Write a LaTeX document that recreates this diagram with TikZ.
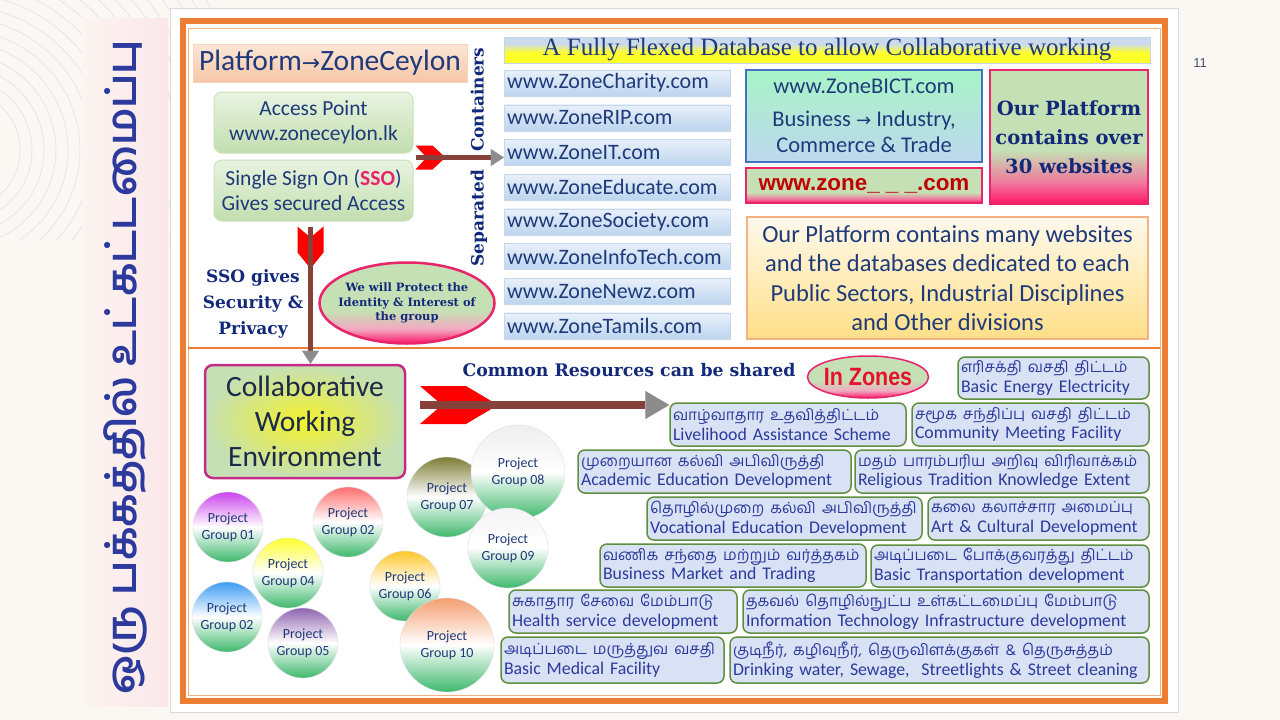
\documentclass[tikz,border=0pt]{standalone}
\usepackage{fontspec}
\usepackage{graphicx}
\setmainfont{Carlito}
\newfontfamily\tam[Script=Tamil]{Hind Madurai}
\newfontfamily\heavy{DejaVu Serif}
\newfontfamily\tserif{Liberation Serif}
\newfontfamily\arialf{Liberation Sans}
\newfontfamily\djs{DejaVu Sans}
\usetikzlibrary{shapes.geometric,arrows.meta,calc}
\definecolor{pagebg}{HTML}{FBF8F4}
\definecolor{navy}{HTML}{1F3A7A}
\definecolor{hnavy}{HTML}{12297A}
\definecolor{tamblue}{HTML}{2B3A9C}
\definecolor{orangeF}{HTML}{ED7D31}
\definecolor{orangeL}{HTML}{F4B183}
\definecolor{brownS}{HTML}{86423A}
\definecolor{tipg}{HTML}{8C8C8C}
\definecolor{crim}{HTML}{E8246A}
\definecolor{lgreen}{HTML}{C5E0B4}
\definecolor{pgreen}{HTML}{3DB86B}
\definecolor{pinkS}{HTML}{FF1566}
\definecolor{pinkM}{HTML}{F0789E}
\definecolor{pinkL}{HTML}{F2A9C2}
\definecolor{ybar}{HTML}{FFFF2A}
\definecolor{bbar}{HTML}{CCDAEE}
\definecolor{zfill}{HTML}{D9E1F4}
\definecolor{zdraw}{HTML}{5F8F3E}
\definecolor{magB}{HTML}{C42B86}
\definecolor{arcc}{HTML}{E4E7EE}
\definecolor{platT}{HTML}{FCE6D8}
\definecolor{platB}{HTML}{F7C6A6}
\definecolor{platD}{HTML}{F9D3BA}
\definecolor{accT}{HTML}{E8F3E0}
\definecolor{accB}{HTML}{C2DEAF}
\definecolor{accD}{HTML}{C9E2B8}
\definecolor{webT}{HTML}{E8F0FA}
\definecolor{webB}{HTML}{BDD5EE}
\definecolor{webD}{HTML}{C7D6EA}
\definecolor{stripL}{HTML}{FCF4F1}
\definecolor{stripR}{HTML}{FBE7E9}
\definecolor{barD}{HTML}{C5D5EA}
\definecolor{bictT}{HTML}{A8F5C6}
\definecolor{bictB}{HTML}{BDD7EE}
\definecolor{bictD}{HTML}{4472C4}
\definecolor{dred}{HTML}{C00000}
\definecolor{orT}{HTML}{FFF9EC}
\definecolor{orB}{HTML}{FFDF88}
\definecolor{colY}{HTML}{F4F22A}
\definecolor{colT}{HTML}{1B2A4A}
\definecolor{zoneR}{HTML}{E8112D}
\definecolor{pgA}{HTML}{CC44EE}
\definecolor{pgB}{HTML}{FF6F6F}
\definecolor{pgC}{HTML}{FFFF30}
\definecolor{pgD}{HTML}{3D9BF5}
\definecolor{pgE}{HTML}{8E64B0}
\definecolor{pgF}{HTML}{FFC72C}
\definecolor{pgG}{HTML}{F4A070}
\definecolor{pgH}{HTML}{7D7D36}
\definecolor{pgI}{HTML}{EEEEEE}
\definecolor{pgJ}{HTML}{F4F4F4}
\definecolor{pgnum}{HTML}{44546A}
\pgfdeclareverticalshading{gpinkO}{100bp}{color(0bp)=(pinkS); color(25bp)=(pinkS); color(33bp)=(pinkM); color(45bp)=(lgreen); color(75bp)=(lgreen); color(100bp)=(lgreen)}
\pgfdeclareverticalshading{gpinkZ}{100bp}{color(0bp)=(pinkS); color(25bp)=(pinkS); color(31bp)=(pinkM); color(40bp)=(lgreen); color(75bp)=(lgreen); color(100bp)=(lgreen)}
\pgfdeclareverticalshading{gpinkE}{100bp}{color(0bp)=(pinkS); color(25bp)=(pinkS); color(34bp)=(pinkL); color(45bp)=(lgreen); color(75bp)=(lgreen); color(100bp)=(lgreen)}
\pgfdeclareverticalshading{tbar}{100bp}{color(0bp)=(ybar); color(25bp)=(ybar); color(45bp)=(ybar); color(62bp)=(bbar); color(75bp)=(bbar); color(100bp)=(bbar)}
\tikzset{
  plat/.style={rectangle, top color=platT, bottom color=platB, draw=platD, minimum width=274, minimum height=38, inner sep=0, text=navy, font=\fontsize{29.5}{32}\selectfont},
  accbox/.style={rounded corners=8, top color=accT, bottom color=accB, draw=accD, line width=1, minimum width=199, minimum height=61, inner sep=0, align=center, text=navy, font=\fontsize{21.5}{25}\selectfont},
  web/.style={rectangle, top color=webT, bottom color=webB, draw=webD, minimum height=26, text width=220, align=left, inner xsep=3, inner ysep=0, text=navy, font=\fontsize{22}{24}\selectfont},
  zbox/.style={rounded corners=7, fill=zfill, draw=zdraw, line width=1.5, align=left, inner xsep=3, inner ysep=1, text=tamblue, font=\fontsize{17.8}{19.8}\selectfont},
  pg/.style n args={2}{circle, minimum size=#1, top color=#2, bottom color=pgreen, middle color=white, draw=gray!25, align=center, inner sep=0, text=navy, font=\fontsize{14}{17}\selectfont},
  heavytxt/.style={text=hnavy, font=\heavy\bfseries\fontsize{17}{26}\selectfont},
  oval/.style={ellipse, shade, shading=gpinkE, draw=crim, inner sep=0},
  fletch/.style={fill=red},
  shaftS/.style={draw=brownS, line width=5, -{Triangle[length=13pt,width=17pt,line width=0.1pt,color=tipg,fill=tipg]}},
  shaftB/.style={draw=brownS, line width=8, -{Triangle[length=24pt,width=28pt,line width=0.1pt,color=tipg,fill=tipg]}}
}
\newcommand\tml[1]{{\tam\fontsize{15.3}{17}\selectfont #1}}
\begin{document}
\begin{tikzpicture}[x=1pt,y=-1pt]
\useasboundingbox (0,0) rectangle (1280,720);
\fill[pagebg] (0,0) rectangle (1280,720);
\begin{scope}
  \clip (0,0) rectangle (210,240);
  \foreach \r in {60,72,...,300} \draw[arcc, line width=0.9] (-40,150) circle[radius=\r];
\end{scope}
% left title strip
\shade[left color=stripL, right color=stripR] (82,18) rectangle (168,706);
\node[rotate=90, text=tamblue, font=\tam\bfseries\fontsize{41}{48}\selectfont] (title) at (125,367) {ஒரு பக்கத்தில் உட்கட்டமைப்பு};
% main panel
\fill[white, draw=gray!30] (170,8) rectangle (1178,712);
\draw[orangeF, line width=6] (183,21) rectangle (1165,701);
\draw[orangeL, line width=1] (188,28) rectangle (1160,695);
\draw[orangeF, line width=2.5] (188,348) -- (1160,348);
\node[text=pgnum, font=\arialf\fontsize{13}{15}\selectfont] (pgno) at (1200,63) {11};

% top-left
\node[plat] (plat) at (330,63) {Platform{\djs\fontsize{22}{24}\selectfont →}ZoneCeylon};
\node[accbox] (access) at (313.5,122.5) {Access Point\\www.zoneceylon.lk};
\node[accbox] (sso) at (313.5,190.5) {Single Sign On ({\color{crim}\bfseries SSO})\\Gives secured Access};
\node[heavytxt, align=center] (ssog) at (253,304) {SSO gives\\Security \&\\Privacy};
\node[oval, line width=2.5, minimum width=175, minimum height=81] (protect) at (407,303) {};
\node[align=center, inner sep=0, text=hnavy, font=\heavy\bfseries\fontsize{11.5}{14.5}\selectfont] (protectT) at (protect.center) {We will Protect the\\Identity \& Interest of\\the group};
\node[rotate=90, text=hnavy, font=\heavy\bfseries\fontsize{17}{19}\selectfont] (sepc) at (479,157) {Separated\hspace{18pt}Containers};

% title bar
\node[rectangle, shade, shading=tbar, draw=barD, minimum width=646, minimum height=26, inner sep=0, text=navy, font=\tserif\fontsize{25}{27}\selectfont] (tbar) at (827,50) {A Fully Flexed Database to allow Collaborative working};

% websites
\node[web] (w1) at (617,83) {www.ZoneCharity.com};
\node[web] (w2) at (617,117.7) {www.ZoneRIP.com};
\node[web] (zit) at (617,152.4) {www.ZoneIT.com};
\node[web] (w4) at (617,187.1) {www.ZoneEducate.com};
\node[web] (w5) at (617,221.8) {www.ZoneSociety.com};
\node[web] (w6) at (617,256.5) {www.ZoneInfoTech.com};
\node[web] (w7) at (617,291.2) {www.ZoneNewz.com};
\node[web] (w8) at (617,325.9) {www.ZoneTamils.com};

% right top
\node[rectangle, top color=bictT, bottom color=bictB, draw=bictD, line width=2, minimum width=236, minimum height=92, inner sep=0, align=center, text=navy, font=\fontsize{22.5}{26.5}\selectfont] (bict) at (864,116) {www.ZoneBICT.com\\[6pt]Business {\djs\fontsize{18}{20}\selectfont →} Industry,\\Commerce \& Trade};
\node[rectangle, shade, shading=gpinkZ, draw=crim, line width=2, minimum width=236, minimum height=35, inner sep=0, text=dred, font=\arialf\bfseries\fontsize{22.4}{24}\selectfont] (zone) at (864,185.5) {www.zone\_ \_ \_.com};
\node[rectangle, shade, shading=gpinkO, draw=crim, line width=2, minimum width=158, minimum height=134, inner sep=0, align=center, text=hnavy, font=\heavy\bfseries\fontsize{19.5}{29}\selectfont] (our) at (1069,137) {Our Platform\\contains over\\30 websites};
\node[rectangle, top color=orT, bottom color=orB, draw=orangeL, line width=1.5, minimum width=401, minimum height=122, inner sep=0, align=center, text=navy, font=\fontsize{24.5}{29.3}\selectfont] (many) at (947.5,278) {Our Platform contains many websites\\and the databases dedicated to each\\Public Sectors, Industrial Disciplines\\and Other divisions};

% bottom
\node[rounded corners=8, inner color=colY, outer color=lgreen, draw=magB, line width=2.5, minimum width=200, minimum height=113, inner sep=0, align=center, text=colT, font=\fontsize{29.5}{35}\selectfont] (collab) at (305,421.5) {Collaborative\\Working\\Environment};
\node[heavytxt, font=\heavy\bfseries\fontsize{17.3}{19}\selectfont] (crs) at (629,370) {Common Resources can be shared};
\node[oval, line width=1.5, minimum width=121, minimum height=42] (zones) at (868,377) {};
\node[inner sep=0, text=zoneR] (zonesT) at (zones.center) {\scalebox{0.86}[1]{\arialf\bfseries\fontsize{25}{27}\selectfont In Zones}};

% project groups
\node[pg={70}{pgA}] (p1) at (228,527) {Project\\Group 01};
\node[pg={70}{pgB}] (p2) at (348,522) {Project\\Group 02};
\node[pg={70}{pgC}] (p4) at (288,573) {Project\\Group 04};
\node[pg={70}{pgD}] (p2b) at (227,617) {Project\\Group 02};
\node[pg={70}{pgE}] (p5) at (303,643) {Project\\Group 05};
\node[pg={70}{pgF}] (p6) at (405,586) {Project\\Group 06};
\node[pg={94}{pgG}] (p10) at (447,645) {Project\\Group 10};
\node[pg={80}{pgH}] (p7) at (447,497) {Project\\Group 07};
\node[pg={94}{pgI}] (p8) at (518,472) {Project\\Group 08};
\node[pg={80}{pgJ}] (p9) at (508,548) {Project\\Group 09};

% zone boxes
\node[zbox, text width=185, minimum height=42] (z1) at (1053.5,378) {\tml{எரிசக்தி வசதி திட்டம்}\\Basic Energy Electricity};
\node[zbox, text width=230, minimum height=43] (liv) at (788,424.5) {\tml{வாழ்வாதார உதவித்திட்டம்}\\Livelihood Assistance Scheme};
\node[zbox, text width=231, minimum height=43] (z3) at (1030.5,424.5) {\tml{சமூக சந்திப்பு வசதி திட்டம்}\\Community Meeting Facility};
\node[zbox, text width=267, minimum height=43] (z4) at (714.5,471.5) {\tml{முறையான கல்வி அபிவிருத்தி}\\Academic Education Development};
\node[zbox, text width=288, minimum height=43] (z5) at (1002,471.5) {\tml{மதம் பாரம்பரிய அறிவு விரிவாக்கம்}\\Religious Tradition Knowledge Extent};
\node[zbox, text width=269, minimum height=43] (z6) at (784.5,518.5) {\tml{தொழில்முறை கல்வி அபிவிருத்தி}\\Vocational Education Development};
\node[zbox, text width=215, minimum height=43] (z7) at (1038.5,518.5) {\tml{கலை கலாச்சார அமைப்பு}\\Art \& Cultural Development};
\node[zbox, text width=260, minimum height=43] (z8) at (733,565.5) {\tml{வணிக சந்தை மற்றும் வர்த்தகம்}\\Business Market and Trading};
\node[zbox, text width=272, minimum height=42] (z9) at (1010,566) {\tml{அடிப்படை போக்குவரத்து திட்டம்}\\Basic Transportation development};
\node[zbox, text width=222, minimum height=43] (z10) at (623,611.5) {\tml{சுகாதார சேவை மேம்பாடு}\\Health service development};
\node[zbox, text width=400, minimum height=43] (z11) at (946,611.5) {\tml{தகவல் தொழில்நுட்ப உள்கட்டமைப்பு மேம்பாடு}\\Information Technology Infrastructure development};
\node[zbox, text width=217, minimum height=46] (z12) at (612.5,660) {\tml{அடிப்படை மருத்துவ வசதி}\\Basic Medical Facility};
\node[zbox, text width=413, minimum height=46] (z13) at (939.5,660) {\tml{குடிநீர், கழிவுநீர், தெருவிளக்குகள் \& தெருசுத்தம்}\\Drinking water, Sewage,\ \ Streetlights \& Street cleaning};

% arrows
\coordinate (a1s) at ($(access.south east)!0.5!(sso.north east)+(2,1)$);
\begin{scope}[shift={(a1s)}]
  \fill[fletch] (0,-12) -- (17,-12) -- (30,0) -- (17,12) -- (0,12) -- (11,0) -- cycle;
\end{scope}
\draw[shaftS] (a1s) -- (a1s -| zit.west);

\coordinate (a2s) at ($(sso.south)+(-3,5)$);
\begin{scope}[shift={(a2s)}]
  \fill[fletch] (-13,0) -- (0,11) -- (13,0) -- (13,26) -- (0,42) -- (-13,26) -- cycle;
\end{scope}
\draw[shaftS] (a2s) -- (a2s |- collab.north);

\coordinate (a3s) at (420,405);
\begin{scope}[shift={(a3s)}]
  \fill[fletch] (0,-19) -- (46,-19) -- (78,0) -- (46,19) -- (0,19) -- (22,0) -- cycle;
\end{scope}
\draw[shaftB] (a3s) -- (a3s -| liv.west);
\end{tikzpicture}
\end{document}
